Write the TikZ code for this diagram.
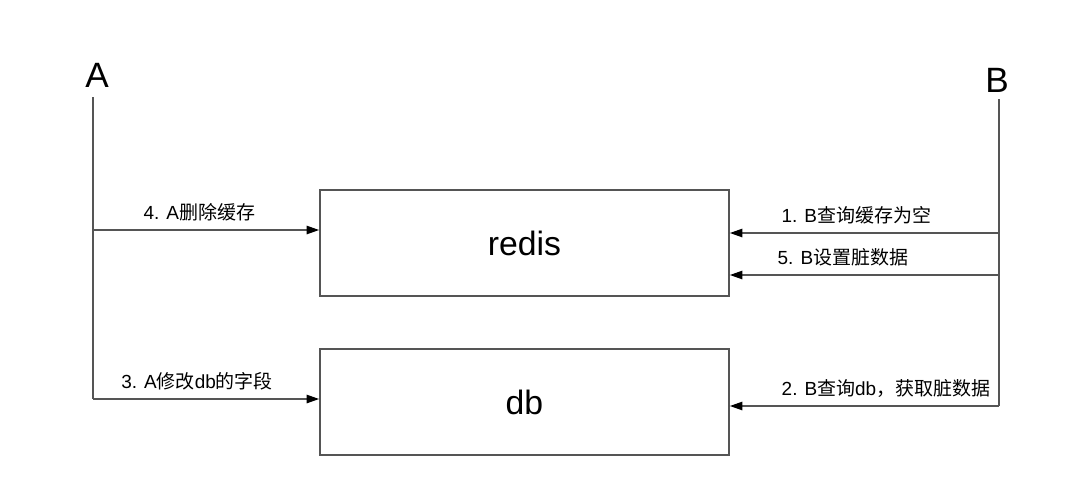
\documentclass[tikz,border=0pt]{standalone}
\usepackage{fontspec}
\setmainfont{Liberation Sans}
\newfontfamily\cjk{Noto Sans CJK SC}
\usetikzlibrary{arrows.meta,positioning,calc}
\definecolor{rcInk}{HTML}{000000}
\definecolor{rcWire}{HTML}{555555}
\tikzset{
  rc/base/.style={draw=rcWire, line width=1.1pt, align=center},
  rc/store/.style={rc/base, minimum width=10.225cm, minimum height=2.65cm,
    font=\fontsize{24}{28}\selectfont, text=rcInk},
  rc/actor/.style={font=\fontsize{25}{30}\selectfont, text=rcInk},
  rc/wire/.style={draw=rcWire, line width=1.1pt},
  rc/flow/.style={rc/wire, -{Triangle[length=9pt,width=6pt,color=rcInk]}},
  rc/label/.style={font=\fontsize{13.5}{16}\selectfont, text=rcInk,
    above=4.5pt, inner sep=1pt},
}

\begin{document}
\begin{tikzpicture}[x=0.025cm, y=-0.025cm,
  box/.style={rc/store},
  arrow/.style={rc/flow}
]
\useasboundingbox (0,0) rectangle (1080,476);
% actors
\node[rc/actor] (A) at (97,75) {A};
\node[rc/actor] (B) at (997,80) {B};
% stores
\node[box] (redis) at (524.5,243) {redis};
\node[box] (db) at (524.5,402) {db};
% life lines
\coordinate (aTop) at (93,97);
\coordinate (aDel) at (93,230);
\coordinate (aBot) at (93,399);
\coordinate (bTop) at (999,99);
\coordinate (bGet) at (999,233);
\coordinate (bSet) at (999,275);
\coordinate (bBot) at (999,406);
\draw[rc/wire] (aTop) -- (aBot);
\draw[rc/wire] (bTop) -- (bBot);
% steps
\draw[arrow] (aDel) -- (aDel -| redis.west)
  node[rc/label, pos=.47] {4. A{\cjk 删除缓存}};
\draw[arrow] (aBot) -- (aBot -| db.west)
  node[rc/label, pos=.46] {3. A{\cjk 修改}db{\cjk 的字段}};
\draw[arrow] (bGet) -- (bGet -| redis.east)
  node[rc/label, pos=.53] {1. B{\cjk 查询缓存为空}};
\draw[arrow] (bSet) -- (bSet -| redis.east)
  node[rc/label, pos=.58] {5. B{\cjk 设置脏数据}};
\draw[arrow] (bBot) -- (bBot -| db.east)
  node[rc/label, pos=.42] {2. B{\cjk 查询}db{\cjk ，获取脏数据}};
\end{tikzpicture}
\end{document}
